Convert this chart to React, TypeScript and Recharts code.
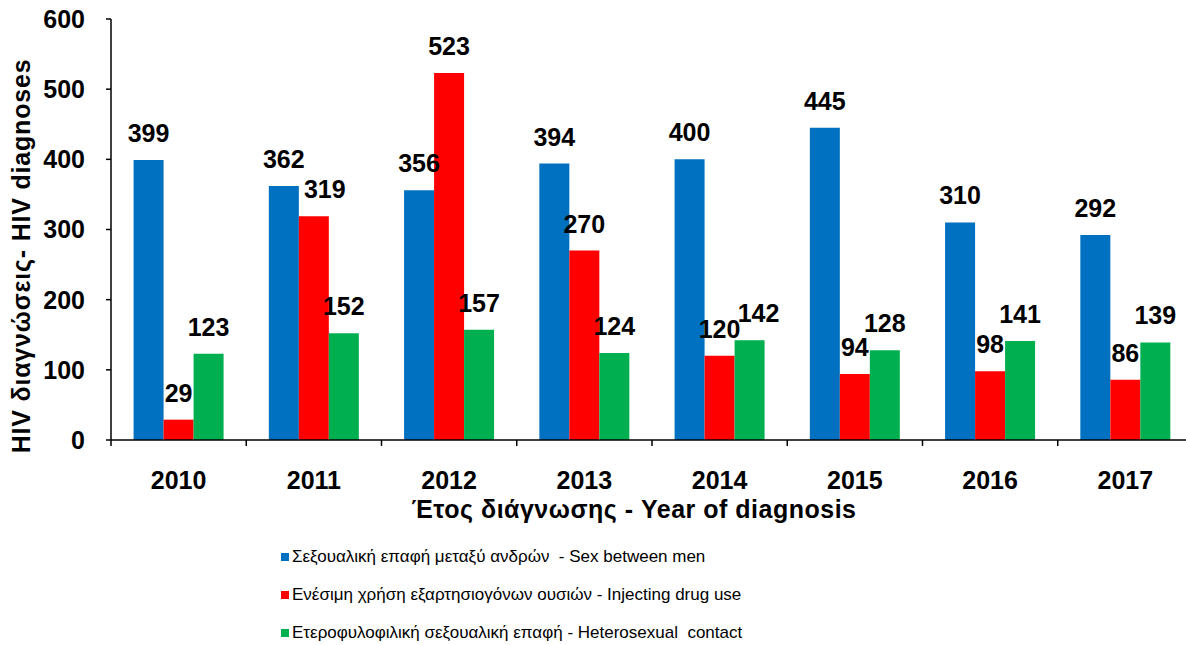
import React from "react";
import { BarChart, Bar, XAxis, YAxis, Legend, LabelList } from "recharts";

const years = ["2010", "2011", "2012", "2013", "2014", "2015", "2016", "2017"];
const sexBetweenMen = [399, 362, 356, 394, 400, 445, 310, 292];
const injectingDrugUse = [29, 319, 523, 270, 120, 94, 98, 86];
const heterosexual = [123, 152, 157, 124, 142, 128, 141, 139];
const yTicks = [0, 100, 200, 300, 400, 500, 600];

const seriesNames = [
  "Σεξουαλική επαφή μεταξύ ανδρών  - Sex between men",
  "Ενέσιμη χρήση εξαρτησιογόνων ουσιών - Injecting drug use",
  "Ετεροφυλοφιλική σεξουαλική επαφή - Heterosexual  contact",
];
const colors = ["#0070C0", "#FF0000", "#00B050"];

const data = years.map((y, i) => ({
  year: y,
  msm: sexBetweenMen[i],
  idu: injectingDrugUse[i],
  het: heterosexual[i],
}));

const FONT = "'Liberation Sans', Arial, sans-serif";
const CHART_W = 1200;
const CHART_H = 645;
const MARGIN = { top: 19, right: 7, bottom: 0, left: 0 };
const Y_W = 111;
const X_H = 205;
const BAND = (CHART_W - MARGIN.left - MARGIN.right - Y_W) / years.length;

// small horizontal label nudges seen in the original (series key -> index -> px)
const LABEL_NUDGE: Record<string, Record<number, number>> = {
  idu: { 1: 11 },
  het: { 4: 9 },
};

const XTick = (props: any) => {
  const { x, y, payload } = props;
  return (
    <g>
      <line x1={x - BAND / 2} x2={x - BAND / 2} y1={y} y2={y + 6} stroke="#000" strokeWidth={1.5} />
      <text x={x} y={y + 49} textAnchor="middle" fontFamily={FONT} fontWeight="bold" fontSize={25} fill="#000">
        {payload.value}
      </text>
    </g>
  );
};

const makeLabel = (key: string) => (props: any) => {
  const { x, y, width, value, index } = props;
  const dx = (LABEL_NUDGE[key] && LABEL_NUDGE[key][index]) || 0;
  return (
    <text
      x={x + width / 2 + dx}
      y={y - 18}
      textAnchor="middle"
      fontFamily={FONT}
      fontWeight="bold"
      fontSize={25}
      fill="#000"
    >
      {value}
    </text>
  );
};

const LegendContent = () => (
  <div style={{ fontFamily: FONT, fontSize: 17, color: "#000" }}>
    {seriesNames.map((n, i) => (
      <div key={n} style={{ display: "flex", alignItems: "center", height: 38, whiteSpace: "pre" }}>
        <span style={{ display: "inline-block", width: 8, height: 8, background: colors[i], marginRight: 3 }} />
        <span>{n}</span>
      </div>
    ))}
  </div>
);

export default function App() {
  return (
    <div style={{ position: "absolute", left: 0, top: 0, width: 1186, height: 645, overflow: "hidden", background: "#fff" }}>
      <BarChart width={CHART_W} height={CHART_H} data={data} margin={MARGIN} barCategoryGap="16.7%" barGap={0}>
        <XAxis
          dataKey="year"
          height={X_H}
          tick={<XTick />}
          tickLine={false}
          tickSize={0}
          tickMargin={0}
          axisLine={{ stroke: "#000", strokeWidth: 1.5 }}
          interval={0}
          label={{
            content: () => (
              <text
                x={634}
                y={518}
                textAnchor="middle"
                fontFamily={FONT}
                fontWeight="bold"
                fontSize={25}
                letterSpacing={0.5}
                fill="#000"
              >
                Έτος διάγνωσης - Year of diagnosis
              </text>
            ),
          }}
        />
        <YAxis
          width={Y_W}
          domain={[0, 600]}
          ticks={yTicks}
          interval={0}
          tickSize={5}
          tickMargin={21}
          tickLine={{ stroke: "#000", strokeWidth: 1.5 }}
          axisLine={{ stroke: "#000", strokeWidth: 1.5 }}
          tick={{ fontFamily: FONT, fontWeight: "bold", fontSize: 25, fill: "#000" }}
          label={{
            content: () => (
              <text
                x={30}
                y={256}
                transform="rotate(-90 30 256)"
                textAnchor="middle"
                fontFamily={FONT}
                fontWeight="bold"
                fontSize={25}
                letterSpacing={0.8}
                fill="#000"
              >
                HIV διαγνώσεις- HIV diagnoses
              </text>
            ),
          }}
        />
        <Legend
          layout="vertical"
          align="center"
          verticalAlign="middle"
          content={<LegendContent />}
          wrapperStyle={{ left: 281, top: 538, width: 700, height: 120 }}
        />
        <Bar dataKey="msm" name={seriesNames[0]} fill={colors[0]} isAnimationActive={false}>
          <LabelList dataKey="msm" content={makeLabel("msm")} />
        </Bar>
        <Bar dataKey="idu" name={seriesNames[1]} fill={colors[1]} isAnimationActive={false}>
          <LabelList dataKey="idu" content={makeLabel("idu")} />
        </Bar>
        <Bar dataKey="het" name={seriesNames[2]} fill={colors[2]} isAnimationActive={false}>
          <LabelList dataKey="het" content={makeLabel("het")} />
        </Bar>
      </BarChart>
    </div>
  );
}
